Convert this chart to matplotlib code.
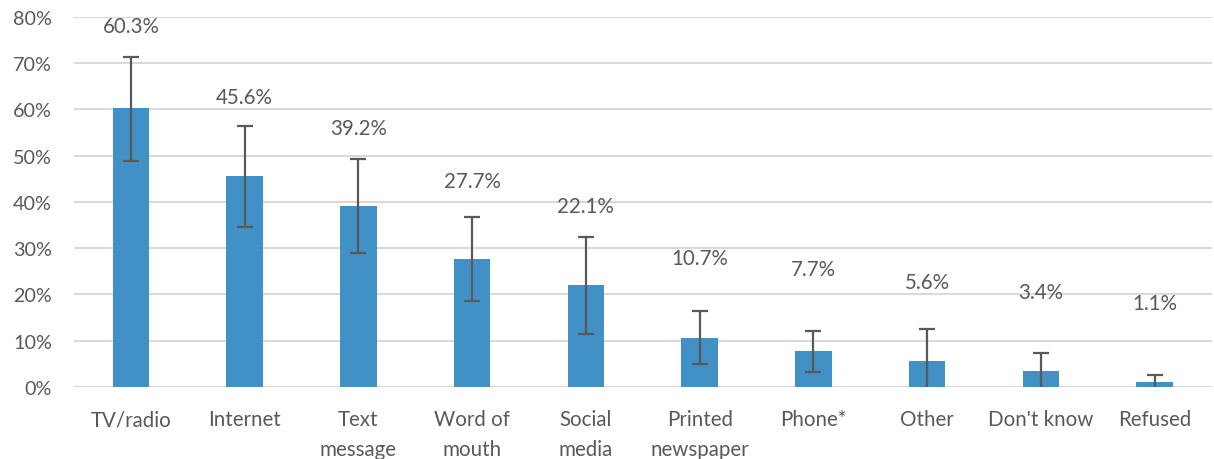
import numpy as np
import matplotlib.pyplot as plt

categories = ["TV/radio", "Internet", "Text\nmessage", "Word of\nmouth", "Social\nmedia",
              "Printed\nnewspaper", "Phone*", "Other", "Don't know", "Refused"]
values = [60.3, 45.6, 39.2, 27.7, 22.1, 10.7, 7.7, 5.6, 3.4, 1.1]
ci_low = [48.9, 34.6, 28.9, 18.5, 11.5, 5.0, 3.3, 0.0, 0.0, 0.0]
ci_high = [71.4, 56.4, 49.3, 36.7, 32.5, 16.4, 12.0, 12.6, 7.3, 2.7]
yticks = [0, 10, 20, 30, 40, 50, 60, 70, 80]

# label heights as placed in the original (layout, not data)
label_y = [78.1, 62.7, 56.0, 44.5, 39.1, 27.9, 25.5, 22.7, 20.5, 18.2]

plt.rcParams['font.family'] = ['Lato', 'DejaVu Sans']
txt = '#595959'
ecol = '#595959'

fig = plt.figure(figsize=(12.14, 4.60), dpi=100)
ax = fig.add_axes([0.061, 0.1565, 0.937, 0.8045])

x = np.arange(len(categories))
v = np.array(values)
lo = np.array(ci_low)
hi = np.array(ci_high)

ax.bar(x, v, width=0.32, color='#4191c6', zorder=2)

# error bars: stem + caps (no cap where the lower bound sits on zero)
ax.vlines(x, lo, hi, color=ecol, lw=1.6, zorder=3)
ax.plot(x, hi, ls='none', marker='_', ms=11, mew=1.6, color=ecol, zorder=3)
m = lo > 0
ax.plot(x[m], lo[m], ls='none', marker='_', ms=11, mew=1.6, color=ecol, zorder=3)

for xi, val, ly in zip(x, values, label_y):
    ax.text(xi, ly, f"{val:.1f}%", ha='center', va='center', fontsize=14.8, color=txt)

ax.set_xlim(-0.5, len(categories) - 0.5)
ax.set_ylim(0, 80)
ax.set_yticks(yticks)
ax.set_yticklabels([f"{t}%" for t in yticks])
ax.set_xticks(x)
ax.set_xticklabels(categories, linespacing=1.6, fontsize=14.8)
ax.tick_params(axis='both', length=0, colors=txt)
ax.tick_params(axis='y', pad=16, labelsize=14.2)
ax.tick_params(axis='x', pad=16)
ax.grid(axis='y', color='#d9d9d9', lw=1.5, zorder=0)
ax.set_axisbelow(True)
for s in ax.spines.values():
    s.set_visible(False)

fig.savefig('out.png', dpi=100)
